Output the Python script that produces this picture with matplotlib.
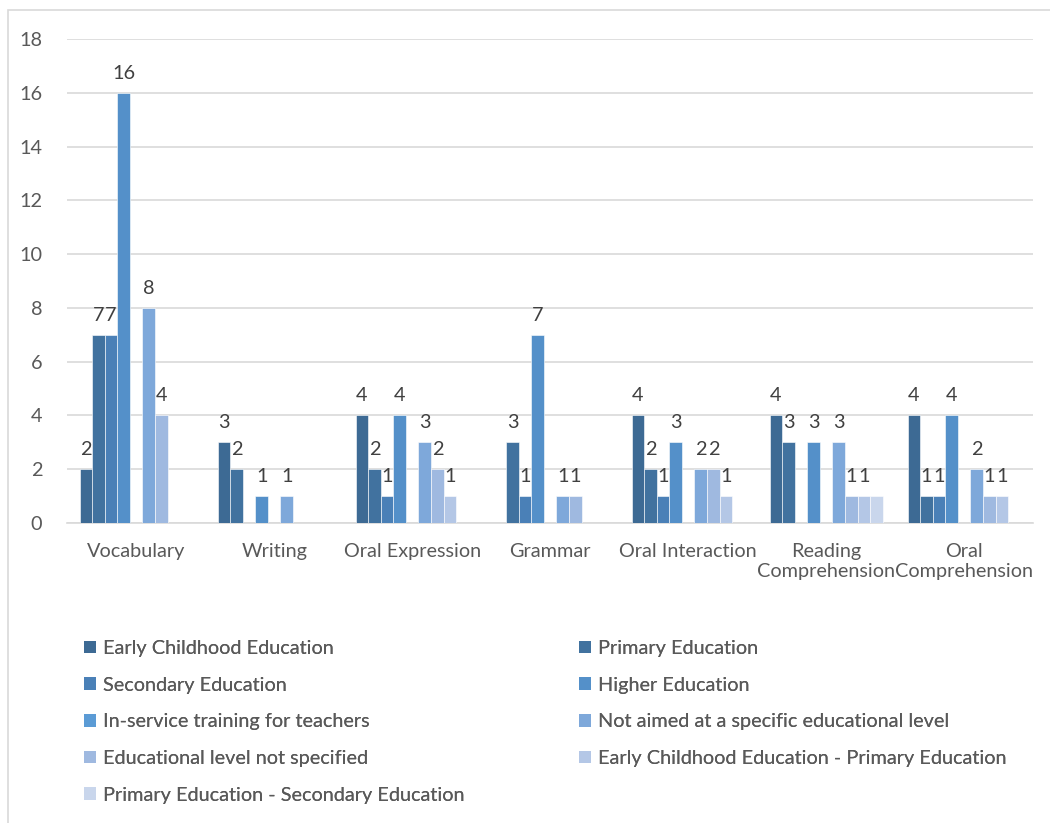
import numpy as np
import matplotlib.pyplot as plt
from matplotlib.patches import Rectangle, Patch


# Skills on the x axis and the educational levels (one bar series each)
skills = ['Vocabulary', 'Writing', 'Oral Expression', 'Grammar', 'Oral Interaction',
          'Reading\nComprehension', 'Oral\nComprehension']

levels = ['Early Childhood Education', 'Primary Education', 'Secondary Education',
          'Higher Education', 'In-service training for teachers',
          'Not aimed at a specific educational level', 'Educational level not specified',
          'Early Childhood Education - Primary Education',
          'Primary Education - Secondary Education']

early_childhood = [2, 3, 4, 0, 4, 4, 4]
primary = [7, 2, 2, 3, 2, 3, 1]
secondary = [7, 0, 1, 1, 1, 0, 1]
higher = [16, 1, 4, 7, 3, 3, 4]
in_service = [0, 0, 0, 0, 0, 0, 0]
not_aimed = [8, 1, 3, 1, 2, 3, 2]
not_specified = [4, 0, 2, 1, 2, 1, 1]
early_primary = [0, 0, 1, 0, 1, 1, 1]
primary_secondary = [0, 0, 0, 0, 0, 1, 0]

series = [early_childhood, primary, secondary, higher, in_service,
          not_aimed, not_specified, early_primary, primary_secondary]

colors = ['#3d6a94', '#41729f', '#4a80b7', '#5490c9', '#5b9bd5',
          '#7ea8da', '#9fb9e0', '#b4c7e6', '#c9d6ec']

grey = '#595959'
fs = 14.3
plt.rcParams['font.family'] = ['Lato', 'DejaVu Sans']

fig = plt.figure(figsize=(10.5, 8.23), dpi=100)
ax = fig.add_axes([0.064, 0.3645, 0.920, 0.5881])

n = len(series)
width = 0.82 / n
x = np.arange(len(skills))

for i, (vals, col) in enumerate(zip(series, colors)):
    pos = x - 0.41 + width * (i + 0.5)
    bars = ax.bar(pos, vals, width, color=col, edgecolor='white', linewidth=0.4,
                  label=levels[i], zorder=3)
    labels = [str(v) if v else '' for v in vals]
    # the last label in Reading Comprehension collides with its neighbour
    if i == n - 1:
        labels[5] = ''
    ax.bar_label(bars, labels=labels, padding=8, fontsize=fs, color='#404040')

ax.set_ylim(0, 18)
ax.set_yticks(range(0, 19, 2))
ax.set_xlim(-0.5, len(skills) - 0.5)
ax.set_xticks(x)
ax.set_xticklabels(skills)
ax.grid(axis='y', color='#d9d9d9', linewidth=1.2, zorder=0)
for s in ['top', 'right', 'left']:
    ax.spines[s].set_visible(False)
ax.spines['bottom'].set_color('#d9d9d9')
ax.spines['bottom'].set_linewidth(1.2)
ax.tick_params(axis='both', length=0, labelsize=fs, labelcolor=grey)
ax.tick_params(axis='y', pad=18)
ax.tick_params(axis='x', pad=14.5)

# legend in two columns, filled row by row
handles = [Patch(facecolor=c, edgecolor='none') for c in colors]
for anchor_x, idx in [(0.080, [0, 2, 4, 6, 8]), (0.5514, [1, 3, 5, 7])]:
    leg = fig.legend([handles[k] for k in idx], [levels[k] for k in idx],
                     loc='upper left', bbox_to_anchor=(anchor_x, 0.2224),
                     frameon=False, fontsize=fs, labelcolor=grey,
                     handlelength=0.62, handleheight=0.62, handletextpad=0.32,
                     labelspacing=0.99, borderaxespad=0, borderpad=0)
    fig.add_artist(leg)

# chart area border
fig.patches.append(Rectangle((8 / 1050, -0.01), 1.1, 0.998, transform=fig.transFigure,
                             fill=False, edgecolor='#d9d9d9', linewidth=1.2))

fig.savefig('out.png', dpi=100, facecolor='white')
